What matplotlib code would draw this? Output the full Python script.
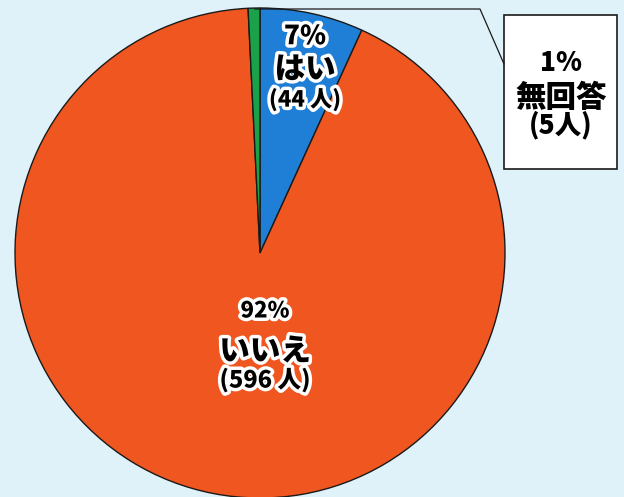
import matplotlib
matplotlib.use('Agg')
import matplotlib.pyplot as plt
import matplotlib.patheffects as pe
from matplotlib.patches import Rectangle

plt.rcParams['font.family'] = ['Noto Sans CJK JP', 'DejaVu Sans']

# answers, clockwise from the top
labels = ['はい', 'いいえ', '無回答']
counts = [44, 596, 5]
percents = ['7%', '92%', '1%']
colors = ['#1f7fd6', '#f0561f', '#1aa24a']

W, H = 624, 497
fig = plt.figure(figsize=(W / 100, H / 100), dpi=100)
fig.patch.set_facecolor('#e0f2f9')
ax = fig.add_axes([0, 0, 1, 1])
ax.set_facecolor('#e0f2f9')

cx, cy, r = 260, H - 253, 245
ax.pie(counts, colors=colors, startangle=90, counterclock=False,
       center=(cx, cy), radius=r,
       wedgeprops=dict(edgecolor='#1a1a1a', linewidth=1.0))

ax.set_xlim(0, W)
ax.set_ylim(0, H)
ax.set_aspect('equal')
ax.axis('off')

outline = [pe.withStroke(linewidth=5, foreground='white')]

def stacked(x, ys, lines, sizes, effects):
    for y, s, fs in zip(ys, lines, sizes):
        ax.text(x, H - y, s, ha='center', va='center', fontsize=fs,
                fontweight='heavy', color='black', path_effects=effects)

# はい
stacked(305, [36, 69, 100],
        [percents[0], labels[0], f'({counts[0]} 人)'], [19, 22, 16], outline)
# いいえ
stacked(265, [311, 351, 380],
        [percents[1], labels[1], f'({counts[1]} 人)'], [16, 22, 17], outline)

# callout box for 無回答
ax.add_patch(Rectangle((504, H - 169), 113, 154, facecolor='white',
                       edgecolor='#1a1a1a', linewidth=1.2, zorder=3))
ax.plot([255, 480, 504], [H - 9, H - 9, H - 64], color='#1a1a1a',
        linewidth=0.9, zorder=3)
stacked(561, [63, 97, 125],
        [percents[2], labels[2], f'({counts[2]}人)'], [19, 22, 19], [])

fig.savefig('out.png', dpi=100, facecolor=fig.get_facecolor())
